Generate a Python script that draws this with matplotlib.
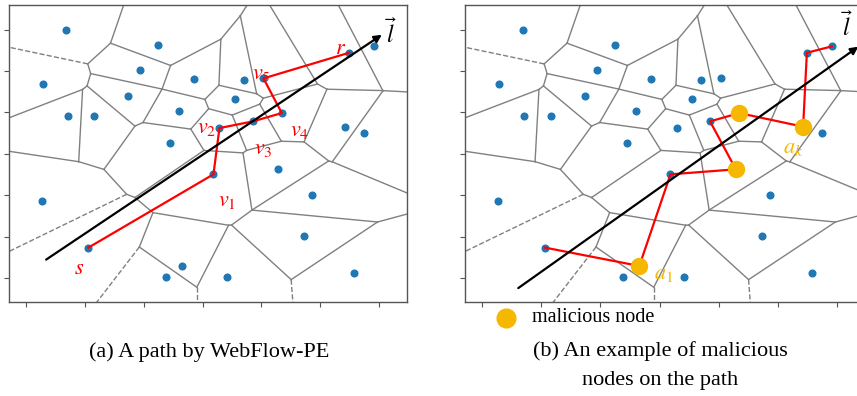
import numpy as np
import matplotlib
matplotlib.use('Agg')
import matplotlib.pyplot as plt
import matplotlib.tri as mtri
from matplotlib.lines import Line2D

plt.rcParams['mathtext.fontset'] = 'stix'
plt.rcParams['font.family'] = ['Liberation Serif', 'DejaVu Serif']

# node positions (grid units)
xs = [0.689, 2.251, 0.294, 1.941, 2.862, 3.701, 4.034, 5.489, 5.908, 1.742,
      3.554, 2.603, 0.713, 1.165, 3.287, 3.854, 4.346, 5.426, 5.749, 2.450,
      3.185, 4.289, 4.861, 0.277, 4.730, 1.063, 2.659, 2.387, 3.418, 5.579]
ys = [6.000, 5.621, 4.686, 5.034, 4.800, 4.775, 4.824, 5.444, 5.597, 4.389,
      4.316, 4.043, 3.923, 3.906, 3.623, 3.785, 3.986, 3.657, 3.495, 3.261,
      2.505, 2.626, 1.998, 1.870, 1.024, 0.734, 0.290, 0.017, 0.017, 0.130]

# paths (node indices)
path_a = [25, 20, 14, 15, 16, 6, 7]          # s, v1, v2, v3, v4, v5, r
path_a_labels = ['$s$', '$v_1$', '$v_2$', '$v_3$', '$v_4$', '$v_5$', '$r$']
path_b = [25, 26, 20, 21, 15, 16, 17, 7, 8]
malicious = [26, 21, 16, 17]
mal_labels = {26: '$a_1$', 17: '$a_k$'}

# direction line l: start -> end
line_a = [(0.345, 0.444), (6.044, 5.879)]
line_b = [(0.614, -0.245), (6.358, 5.591)]

ORANGE = '#f5b700'
GRAY = '#808080'


def voronoi(ax, x, y):
    pts = np.column_stack([x, y])
    tri = mtri.Triangulation(x, y)
    T = tri.triangles
    # circumcenters of the delaunay triangles = voronoi vertices
    A, B, C = pts[T[:, 0]], pts[T[:, 1]], pts[T[:, 2]]
    d = 2 * (A[:, 0] * (B[:, 1] - C[:, 1]) + B[:, 0] * (C[:, 1] - A[:, 1]) + C[:, 0] * (A[:, 1] - B[:, 1]))
    a2, b2, c2 = (A ** 2).sum(1), (B ** 2).sum(1), (C ** 2).sum(1)
    ux = (a2 * (B[:, 1] - C[:, 1]) + b2 * (C[:, 1] - A[:, 1]) + c2 * (A[:, 1] - B[:, 1])) / d
    uy = (a2 * (C[:, 0] - B[:, 0]) + b2 * (A[:, 0] - C[:, 0]) + c2 * (B[:, 0] - A[:, 0])) / d
    cc = np.column_stack([ux, uy])
    center = pts.mean(axis=0)
    ptp = np.ptp(pts, axis=0)
    for i in range(len(T)):
        for j in range(3):
            k = tri.neighbors[i, j]
            if k > i:
                ax.plot([cc[i, 0], cc[k, 0]], [cc[i, 1], cc[k, 1]], color=GRAY, lw=1)
            elif k == -1:
                # infinite ridge, dashed
                p0, p1 = pts[T[i, j]], pts[T[i, (j + 1) % 3]]
                t = (p1 - p0) / np.linalg.norm(p1 - p0)
                n = np.array([-t[1], t[0]])
                mid = (p0 + p1) / 2
                direction = np.sign(np.dot(mid - center, n)) * n
                far = cc[i] + direction * ptp.max() * 2
                ax.plot([cc[i, 0], far[0]], [cc[i, 1], far[1]], color=GRAY, lw=1, ls='--')
    ax.plot(x, y, 'o', color='#1f77b4', ms=4.8, zorder=3)
    ax.set_xlim(pts[:, 0].min() - 0.1 * ptp[0], pts[:, 0].max() + 0.1 * ptp[0])
    ax.set_ylim(pts[:, 1].min() - 0.1 * ptp[1], pts[:, 1].max() + 0.1 * ptp[1])
    ax.set_xticks(range(7))
    ax.set_yticks(range(7))
    ax.set_xticklabels([])
    ax.set_yticklabels([])
    ax.tick_params(length=3.5, color='#555555', width=0.8)
    for s in ax.spines.values():
        s.set_color('#555555')
        s.set_linewidth(1)


def arrow(ax, line, txt_off):
    (x0, y0), (x1, y1) = line
    ax.annotate('', xy=(x1, y1), xytext=(x0, y0),
                arrowprops=dict(arrowstyle='-|>', color='k', lw=1.6, mutation_scale=11,
                                shrinkA=0, shrinkB=0), zorder=5)
    ax.annotate(r'$\vec{l}$', xy=(x1, y1), xytext=txt_off, textcoords='offset points',
                ha='center', va='center', fontsize=17, color='k', annotation_clip=False)


fig = plt.figure(figsize=(8.57, 3.96), dpi=100)
ax1 = fig.add_axes([9 / 857, 94 / 396, 398 / 857, 297 / 396])
ax2 = fig.add_axes([465 / 857, 94 / 396, 400 / 857, 297 / 396])

x = np.array(xs)
y = np.array(ys)

# (a)
voronoi(ax1, x, y)
arrow(ax1, line_a, (6.5, 1))
ax1.plot(x[path_a], y[path_a], color='red', lw=1.6, zorder=4)
offs_a = [(-6.7, -15.6), (9.6, -19.9), (-9, 0), (7.4, -20.2), (12.5, -13), (-1.2, 3), (-6.5, 2.4)]
for idx, lab, off in zip(path_a, path_a_labels, offs_a):
    ax1.annotate(lab, xy=(x[idx], y[idx]), xytext=off, textcoords='offset points',
                 ha='center', va='center', fontsize=16, color='red', zorder=6)

# (b)
voronoi(ax2, x, y)
arrow(ax2, line_b, (-8, 15))
ax2.plot(x[path_b], y[path_b], color='red', lw=1.6, zorder=4)
ax2.plot(x[malicious], y[malicious], 'o', color=ORANGE, ms=11.5, zorder=6)
offs_b = {26: (17.5, -6), 17: (-7, -16)}
for idx, lab in mal_labels.items():
    ax2.annotate(lab, xy=(x[idx], y[idx]), xytext=offs_b[idx], textcoords='offset points',
                 ha='center', va='center', fontsize=16, color=ORANGE, zorder=6)

# legend under (b)
fig.add_artist(Line2D([506 / 857], [1 - 318 / 396], marker='o', ls='', color=ORANGE, ms=13.5,
                      transform=fig.transFigure))
fig.text(532 / 857, 1 - 317 / 396, 'malicious node', ha='left', va='center', fontsize=14.5)

fig.text(209 / 857, 1 - 352 / 396, '(a) A path by WebFlow-PE', ha='center', va='center', fontsize=16)
fig.text(660 / 857, 1 - 351 / 396, '(b) An example of malicious', ha='center', va='center', fontsize=16)
fig.text(660 / 857, 1 - 380 / 396, 'nodes on the path', ha='center', va='center', fontsize=16)

fig.savefig('out.png', dpi=100)
